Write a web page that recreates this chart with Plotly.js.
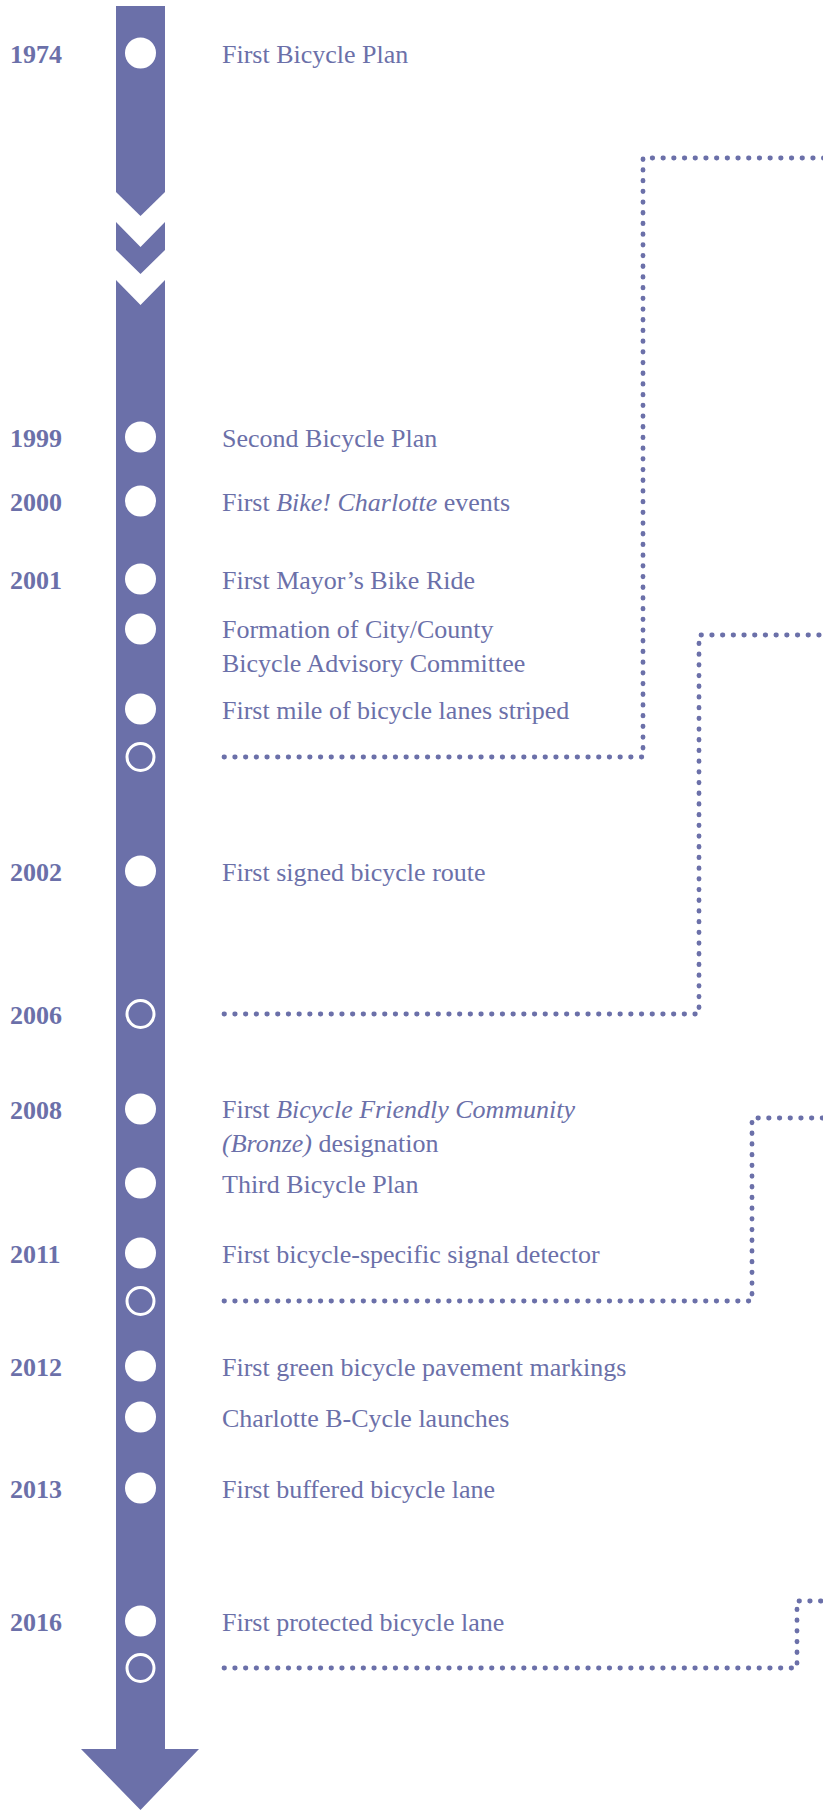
<!DOCTYPE html>
<html>
<head>
<meta charset="utf-8">
<script src="https://cdn.plot.ly/plotly-3.0.1.min.js"></script>
<style>
  html, body { margin: 0; padding: 0; background: #ffffff; }
  #chart { width: 823px; height: 1810px; }
  .shapelayer path { stroke-linecap: round; }
</style>
</head>
<body>
<div id="chart"></div>
<script>
// ---- data ----
const years = ['1974', '1999', '2000', '2001', '', '', '', '2002', '2006', '2008', '', '2011', '', '2012', '', '2013', '2016', ''];
const events = [
  'First Bicycle Plan',
  'Second Bicycle Plan',
  'First <i>Bike! Charlotte</i> events',
  'First Mayor’s Bike Ride',
  'Formation of City/County<br>Bicycle Advisory Committee',
  'First mile of bicycle lanes striped',
  '',
  'First signed bicycle route',
  '',
  'First <i>Bicycle Friendly Community</i><br><i>(Bronze)</i> designation',
  'Third Bicycle Plan',
  'First bicycle-specific signal detector',
  '',
  'First green bicycle pavement markings',
  'Charlotte B-Cycle launches',
  'First buffered bicycle lane',
  'First protected bicycle lane',
  ''
];
const markerKind = ['filled', 'filled', 'filled', 'filled', 'filled', 'filled', 'open', 'filled', 'open', 'filled', 'filled', 'filled', 'open', 'filled', 'filled', 'filled', 'filled', 'open'];

// ---- layout positions (pixels on a 823 x 1810 canvas) ----
const rowY = [53, 437, 501, 579, 629, 709, 757, 871, 1014, 1109, 1183, 1253, 1301, 1366, 1417, 1488, 1621, 1668];
const connectorCornerX = [643, 699, 752, 797];
const connectorTopY = [158, 635, 1118, 1601];

const W = 823, H = 1810;
const PURPLE = '#6b70a9';
const FONT = 'Liberation Serif, Times New Roman, serif';
const FS = 26;
const LINE = 32.5;
const axisX = 140.5;
const yearX = 8;
const textX = 220;
const dotStartX = 224;

// markers
const filledY = [], openY = [];
rowY.forEach((y, i) => {
  if (markerKind[i] === 'filled') filledY.push(y);
  else openY.push(y);
});

const traces = [
  {
    type: 'scatter', mode: 'markers',
    x: filledY.map(() => axisX), y: filledY,
    marker: { symbol: 'circle', size: 31, color: '#ffffff', line: { width: 0 } },
    hoverinfo: 'skip', showlegend: false
  },
  {
    type: 'scatter', mode: 'markers',
    x: openY.map(() => axisX), y: openY,
    marker: { symbol: 'circle-open', size: 27, color: '#ffffff', line: { width: 3, color: '#ffffff' } },
    hoverinfo: 'skip', showlegend: false
  }
];

// shapes: timeline bar
const shapes = [
  { type: 'path', layer: 'below', xref: 'x', yref: 'y', fillcolor: PURPLE, line: { width: 0 },
    path: 'M116,6 L165,6 L165,192 L140.5,216 L116,192 Z' },
  { type: 'path', layer: 'below', xref: 'x', yref: 'y', fillcolor: PURPLE, line: { width: 0 },
    path: 'M116,222 L140.5,247 L165,222 L165,250 L140.5,274 L116,250 Z' },
  { type: 'path', layer: 'below', xref: 'x', yref: 'y', fillcolor: PURPLE, line: { width: 0 },
    path: 'M116,280 L140.5,305 L165,280 L165,1749 L199,1749 L140.5,1810 L81,1749 L116,1749 Z' }
];

// dotted connectors from open circles
openY.forEach((y, k) => {
  shapes.push({
    type: 'path', layer: 'below', xref: 'x', yref: 'y',
    path: 'M' + dotStartX + ',' + y + ' L' + connectorCornerX[k] + ',' + y +
          ' L' + connectorCornerX[k] + ',' + connectorTopY[k] + ' L' + (W + 10) + ',' + connectorTopY[k],
    line: { color: PURPLE, width: 4.8, dash: '0.5px,10.2px' }
  });
});

// annotations
const annotations = [];
rowY.forEach((y, i) => {
  if (years[i]) {
    annotations.push({
      x: yearX, y: y + 1, xref: 'x', yref: 'y', xanchor: 'left', yanchor: 'middle',
      text: '<b>' + years[i] + '</b>', showarrow: false,
      font: { family: FONT, size: FS, color: PURPLE }
    });
  }
  if (events[i]) {
    const nLines = events[i].split('<br>').length;
    annotations.push({
      x: textX, y: y + 1 + (nLines - 1) * LINE / 2, xref: 'x', yref: 'y',
      xanchor: 'left', yanchor: 'middle', align: 'left',
      text: events[i], showarrow: false,
      font: { family: FONT, size: FS, color: PURPLE }
    });
  }
});

const layout = {
  width: W, height: H,
  margin: { l: 0, r: 0, t: 0, b: 0, pad: 0 },
  paper_bgcolor: '#ffffff', plot_bgcolor: '#ffffff',
  xaxis: { range: [0, W], visible: false, fixedrange: true },
  yaxis: { range: [H, 0], visible: false, fixedrange: true },
  showlegend: false,
  shapes: shapes,
  annotations: annotations
};

Plotly.newPlot('chart', traces, layout, { displayModeBar: false, staticPlot: true });
</script>
</body>
</html>
